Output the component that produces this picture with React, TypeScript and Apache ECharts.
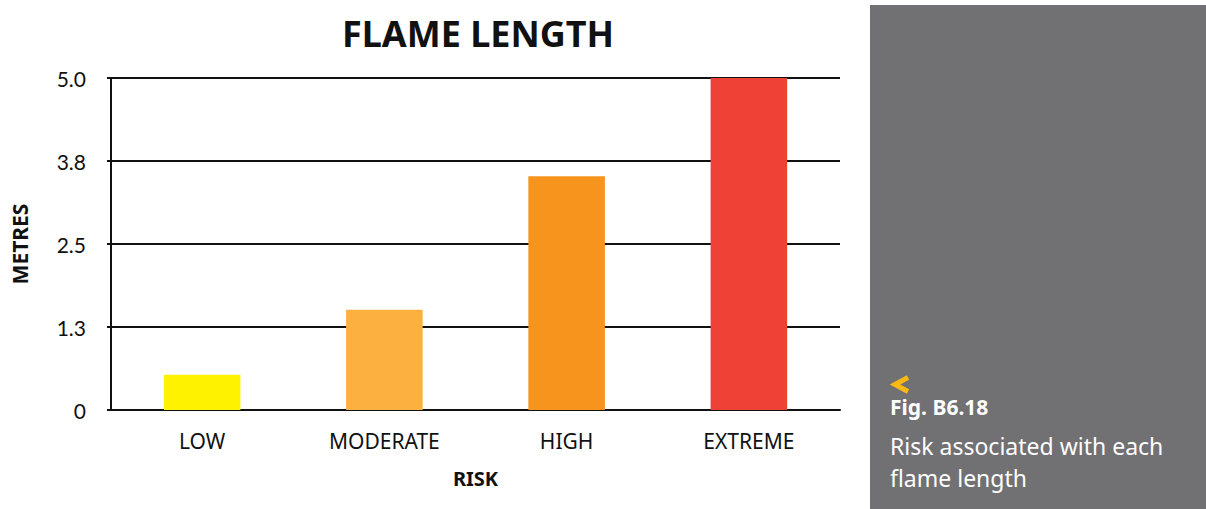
import React, { useEffect, useRef } from "react";
import * as echarts from "echarts";

const categories = ["LOW", "MODERATE", "HIGH", "EXTREME"];
const values = [0.53, 1.51, 3.52, 5.02];
const barColors = ["#FFF200", "#FBB040", "#F7941D", "#EF4136"];
const yTicks = [0, 1.25, 2.5, 3.75, 5];

export default function App() {
  const ref = useRef<HTMLDivElement>(null);
  useEffect(() => {
    const chart = echarts.init(ref.current!, null, { renderer: "svg" });
    chart.setOption({
      animation: false,
      backgroundColor: "#ffffff",
      title: {
        text: "FLAME LENGTH",
        left: 473,
        top: 10,
        textAlign: "center",
        textStyle: { fontFamily: "Noto Sans", fontWeight: "bold", fontSize: 36, color: "#111" },
      },
      grid: { left: 111, right: 366, top: 78, bottom: 99, containLabel: false, outerBoundsMode: "none" },
      xAxis: {
        type: "category",
        data: categories,
        name: "RISK",
        nameLocation: "middle",
        nameGap: 58,
        nameTextStyle: { fontFamily: "Noto Sans", fontWeight: "bold", fontSize: 20, color: "#111" },
        axisLine: { lineStyle: { color: "#111", width: 2 } },
        axisTick: { show: false },
        axisLabel: { fontFamily: "Noto Sans", fontSize: 21, color: "#111", margin: 20 },
      },
      yAxis: {
        type: "value",
        min: 0,
        max: yTicks[yTicks.length - 1],
        interval: yTicks[1] - yTicks[0],
        name: "METRES",
        nameLocation: "middle",
        nameGap: 81,
        nameRotate: 90,
        nameTextStyle: { fontFamily: "Noto Sans", fontWeight: "bold", fontSize: 21, color: "#111" },
        axisLine: { show: true, lineStyle: { color: "#111", width: 2 } },
        axisTick: { show: true, length: 4, lineStyle: { color: "#111", width: 2 } },
        splitLine: { show: true, lineStyle: { color: "#111", width: 2 } },
        axisLabel: {
          fontFamily: "Lato",
          fontSize: 21,
          color: "#111",
          margin: 25,
          formatter: (v: number) => (v === 0 ? "0" : v.toFixed(1)),
        },
      },
      series: [
        {
          type: "bar",
          barWidth: "42%",
          data: values.map((v, i) => ({ value: v, itemStyle: { color: barColors[i] } })),
        },
      ],
      graphic: [
        { type: "rect", shape: { x: 870, y: 5, width: 336, height: 504 }, style: { fill: "#717073" } },
        {
          type: "polyline",
          shape: { points: [[908, 377.5], [895, 384.5], [908, 391.5]] },
          style: { stroke: "#FDB913", lineWidth: 5, fill: "none" },
        },
        {
          type: "text",
          x: 890,
          y: 396,
          style: { text: "Fig. B6.18", fill: "#fff", fontFamily: "Noto Sans", fontWeight: "bold", fontSize: 21 },
        },
        {
          type: "text",
          x: 890,
          y: 430,
          style: {
            text: "Risk associated with each\nflame length",
            fill: "#fff",
            fontFamily: "Noto Sans",
            fontSize: 23,
            lineHeight: 32,
          },
        },
      ],
    });
    return () => chart.dispose();
  }, []);
  return <div ref={ref} style={{ position: "fixed", left: 0, top: 0, width: 1206, height: 509 }} />;
}
